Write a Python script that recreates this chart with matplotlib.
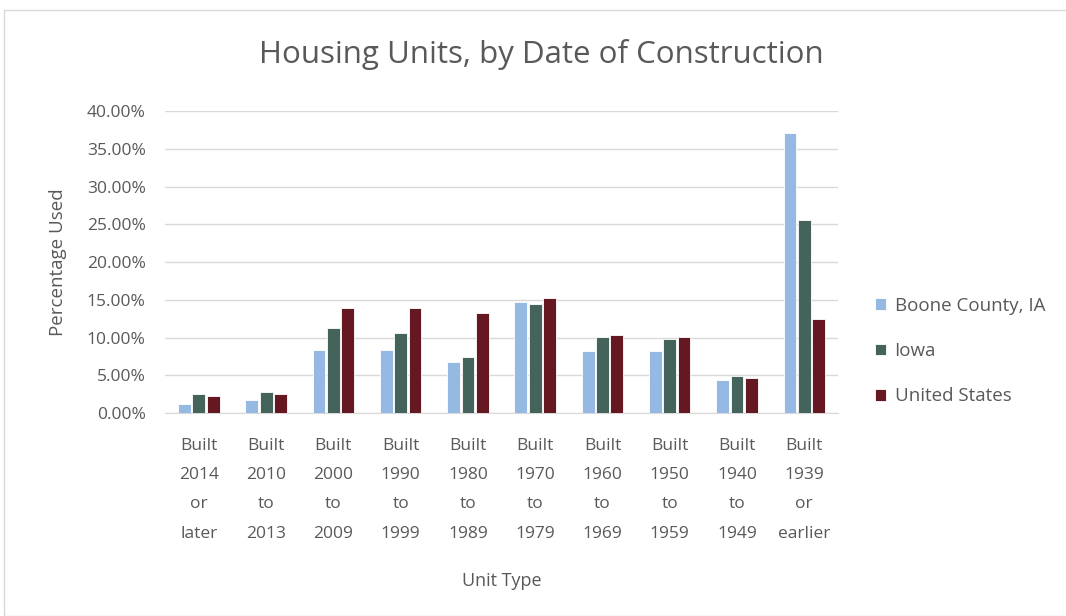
import numpy as np
import matplotlib.pyplot as plt
from matplotlib.patches import Rectangle
from matplotlib.ticker import FuncFormatter

plt.rcParams['font.family'] = ['Open Sans', 'DejaVu Sans']

categories = ['Built\n2014\nor\nlater', 'Built\n2010\nto\n2013', 'Built\n2000\nto\n2009',
              'Built\n1990\nto\n1999', 'Built\n1980\nto\n1989', 'Built\n1970\nto\n1979',
              'Built\n1960\nto\n1969', 'Built\n1950\nto\n1959', 'Built\n1940\nto\n1949',
              'Built\n1939\nor\nearlier']
boone = [1.15, 1.7, 8.4, 8.4, 6.8, 14.7, 8.2, 8.2, 4.4, 37.1]
iowa = [2.5, 2.8, 11.2, 10.6, 7.4, 14.4, 10.1, 9.8, 4.9, 25.5]
usa = [2.25, 2.5, 13.9, 13.9, 13.3, 15.2, 10.3, 10.1, 4.7, 12.5]
series = ['Boone County, IA', 'Iowa', 'United States']
colors = ['#95b9e3', '#44635a', '#651822']

txt = '#595959'
fig = plt.figure(figsize=(10.66, 6.16), dpi=100)
fig.patches.append(Rectangle((4 / 1066, 0), 1.2, 1 - 10 / 616, transform=fig.transFigure,
                             fill=False, edgecolor='#d9d9d9', lw=1))
ax = fig.add_axes([0.155, 0.3295, 0.631, 0.4903])

x = np.arange(len(categories))
for i, (vals, name) in enumerate(zip([boone, iowa, usa], series)):
    ax.bar(x + (i - 1) * 0.213, vals, width=0.19, color=colors[i], edgecolor='white',
           linewidth=0.6, label=name, zorder=3)

ax.set_ylim(0, 40)
ax.set_xlim(-0.5, len(categories) - 0.5)
ax.set_yticks(np.arange(0, 41, 5))
ax.yaxis.set_major_formatter(FuncFormatter(lambda v, p: f'{v:.2f}%'))
ax.set_xticks(x)
ax.set_xticklabels(categories, linespacing=2.1)
ax.tick_params(axis='both', length=0, colors=txt, labelsize=12.5)
ax.tick_params(axis='x', pad=18)
ax.tick_params(axis='y', pad=14)
ax.grid(axis='y', color='#d9d9d9', lw=1, zorder=0)
for s in ['top', 'right', 'left']:
    ax.spines[s].set_visible(False)
ax.spines['bottom'].set_color('#d9d9d9')

ax.set_ylabel('Percentage Used', color=txt, fontsize=13.5, labelpad=14)
ax.set_xlabel('Unit Type', color=txt, fontsize=13, labelpad=22)
fig.text(0.508, 0.912, 'Housing Units, by Date of Construction', ha='center', va='center',
         fontsize=22.5, color=txt)

ax.legend(loc='center left', bbox_to_anchor=(1.03, 0.205), frameon=False, fontsize=13.5,
          labelcolor=txt, handlelength=0.6, handleheight=0.6, labelspacing=1.45,
          handletextpad=0.45)

fig.savefig('out.png', dpi=100)
